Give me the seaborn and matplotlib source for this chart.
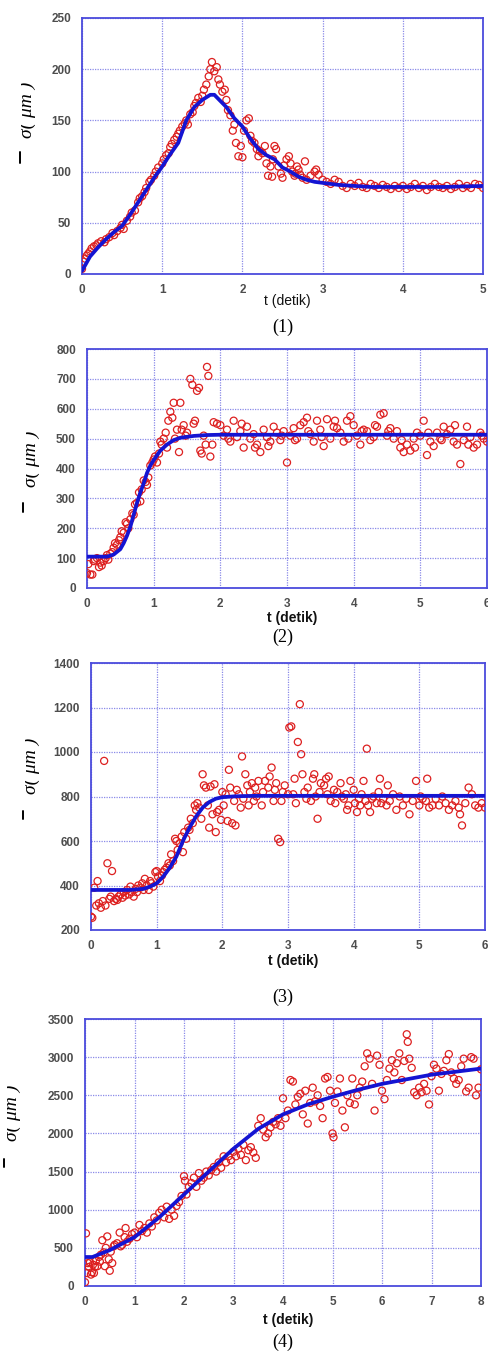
import numpy as np
import pandas as pd
import seaborn as sns
import matplotlib
matplotlib.use("Agg")
import matplotlib.pyplot as plt
from matplotlib.transforms import Bbox, TransformedBbox
from matplotlib.lines import Line2D

# ---------------- DATA ----------------
# Panel 1
p1_points = [(0.00,5),(0.02,12),(0.04,15),(0.06,18),(0.08,20),(0.10,22),(0.12,25),(0.15,27),(0.18,28),(0.20,30),
    (0.24,32),(0.28,31),(0.30,34),(0.34,36),(0.38,40),(0.40,38),(0.44,42),(0.48,45),(0.50,48),(0.52,44),
    (0.56,52),(0.60,56),(0.62,60),(0.66,62),(0.70,70),(0.72,74),(0.75,76),(0.78,80),(0.80,84),(0.84,90),
    (0.86,92),(0.90,96),(0.92,100),(0.95,104),(1.00,108),(1.02,112),(1.05,116),(1.08,118),(1.10,124),(1.12,127),
    (1.15,131),(1.18,134),(1.20,137),(1.22,140),(1.25,144),(1.28,147),(1.30,150),(1.32,146),(1.35,156),(1.38,158),
    (1.40,164),(1.42,167),(1.45,172),(1.48,168),(1.50,174),(1.52,180),(1.55,185),(1.58,193),(1.60,200),(1.62,207),
    (1.65,198),(1.68,202),(1.70,190),(1.72,185),(1.75,178),(1.78,180),(1.80,170),(1.82,160),(1.85,155),(1.88,140),
    (1.90,146),(1.92,128),(1.95,115),(1.98,125),(2.00,114),(2.02,140),(2.05,150),(2.08,152),(2.10,135),(2.12,130),
    (2.15,128),(2.18,122),(2.20,115),(2.22,120),(2.25,118),(2.28,125),(2.30,108),(2.32,96),(2.35,105),(2.37,95),
    (2.38,112),(2.40,125),(2.42,122),(2.45,105),(2.48,98),(2.50,94),(2.52,106),(2.55,112),(2.58,115),(2.60,108),
    (2.62,100),(2.65,96),(2.66,98),(2.68,105),(2.70,102),(2.72,97),(2.75,94),(2.78,110),(2.80,92),(2.85,96),
    (2.90,100),(2.92,102),(2.95,97),(3.00,92),(3.05,90),(3.10,88),(3.15,92),(3.20,90),(3.25,86),(3.30,84),
    (3.35,88),(3.40,86),(3.45,89),(3.50,85),(3.55,84),(3.60,88),(3.65,86),(3.70,84),(3.75,87),(3.80,85),
    (3.85,83),(3.90,86),(3.95,84),(4.00,86),(4.05,83),(4.10,85),(4.15,88),(4.20,84),(4.25,86),(4.30,82),
    (4.35,85),(4.40,88),(4.45,85),(4.50,84),(4.55,86),(4.60,83),(4.65,85),(4.70,88),(4.75,84),(4.80,86),
    (4.85,84),(4.90,88),(4.95,87),(5.00,84)]
p1_line_t = [0, 0.1, 0.2, 0.3, 0.4, 0.5, 0.6, 0.7, 0.8, 0.9, 1.0, 1.1, 1.2, 1.3, 1.4, 1.5, 1.6, 1.65, 1.7, 1.8,
             1.9, 2.0, 2.1, 2.2, 2.3, 2.4, 2.5, 2.6, 2.7, 2.8, 2.9, 3.0, 3.2, 3.4, 3.6, 3.8, 4.0, 4.5, 5.0]
p1_line_y = [3, 17, 26, 34, 41, 47, 58, 70, 82, 94, 105, 117, 128, 150, 163, 170, 175, 175, 171, 163,
             152, 144, 132, 122, 116, 112, 104, 100, 95, 92, 90, 89, 87, 86, 85, 85, 85, 85, 86]

# Panel 2
p2_points = [(0.00,50),(0.02,80),(0.05,45),(0.08,45),(0.10,90),(0.12,95),(0.15,100),(0.18,70),(0.20,85),(0.22,75),
    (0.25,90),(0.28,100),(0.30,110),(0.32,95),(0.35,115),(0.38,120),(0.40,135),(0.42,150),(0.45,145),(0.48,160),
    (0.50,170),(0.52,190),(0.55,185),(0.58,220),(0.60,215),(0.62,200),(0.65,230),(0.68,250),(0.70,245),(0.72,280),
    (0.75,285),(0.78,320),(0.80,290),(0.82,330),(0.85,360),(0.88,355),(0.90,345),(0.92,370),(0.95,410),(0.98,420),
    (1.00,430),(1.02,440),(1.05,420),(1.08,450),(1.10,490),(1.12,480),(1.15,500),(1.18,520),(1.20,470),(1.22,560),
    (1.25,590),(1.28,570),(1.30,620),(1.32,500),(1.35,530),(1.38,455),(1.40,620),(1.42,530),(1.45,545),(1.48,510),
    (1.50,520),(1.55,700),(1.58,680),(1.60,550),(1.62,560),(1.65,660),(1.68,670),(1.70,460),(1.72,450),(1.75,510),
    (1.78,480),(1.80,740),(1.82,710),(1.85,440),(1.88,480),(1.90,555),(1.95,550),
    (2.00,545),(2.05,510),(2.10,530),(2.12,500),(2.15,490),(2.20,560),(2.25,505),(2.30,525),(2.32,550),(2.35,470),
    (2.40,540),(2.45,500),(2.50,515),(2.52,470),(2.55,480),(2.60,455),(2.65,530),(2.70,505),(2.72,475),(2.75,490),
    (2.80,540),(2.85,520),(2.90,495),(2.92,510),(2.95,525),(3.00,420),(3.05,510),(3.10,535),(3.12,495),(3.15,500),
    (3.20,545),(3.25,555),(3.30,570),(3.32,525),(3.35,515),(3.40,490),(3.45,560),(3.50,530),(3.52,505),(3.55,475),
    (3.60,565),(3.65,500),(3.70,540),(3.72,560),(3.75,535),(3.80,520),(3.85,490),(3.90,560),(3.92,500),(3.95,575),
    (4.00,545),(4.05,510),(4.10,480),(4.12,525),(4.15,530),(4.20,525),(4.25,495),(4.30,505),(4.32,545),(4.35,540),
    (4.40,580),(4.45,585),(4.50,510),(4.52,525),(4.55,535),(4.60,500),(4.65,525),(4.70,470),(4.72,495),(4.75,455),
    (4.80,480),(4.85,460),(4.90,500),(4.92,470),(4.95,520),(5.00,510),(5.05,560),(5.10,445),(5.12,520),(5.15,490),
    (5.20,475),(5.25,520),(5.30,500),(5.32,495),(5.35,540),(5.40,515),(5.45,530),(5.50,490),(5.52,545),(5.55,480),
    (5.60,415),(5.65,495),(5.70,540),(5.72,480),(5.75,505),(5.80,470),(5.85,480),(5.90,520),(5.92,510),(5.95,500),
    (6.00,490)]
p2_line_t = [0, 0.3, 0.4, 0.5, 0.55, 0.6, 0.65, 0.7, 0.75, 0.8, 0.85, 0.9, 0.95, 1.0, 1.1, 1.2, 1.3, 1.4, 1.6, 1.8,
             2.0, 3.0, 4.0, 5.0, 6.0]
p2_line_y = [105, 105, 112, 130, 150, 175, 205, 245, 285, 320, 350, 385, 410, 428, 460, 480, 495, 503, 509, 512,
             513, 513, 513, 513, 513]

# Panel 3
p3_points = [(0.00,260),(0.02,255),(0.05,390),(0.08,310),(0.10,420),(0.12,320),(0.15,300),(0.18,330),(0.20,960),(0.22,310),
    (0.25,500),(0.28,340),(0.30,350),(0.32,465),(0.35,330),(0.38,340),(0.40,335),(0.42,350),(0.45,360),(0.48,345),
    (0.50,370),(0.52,355),(0.55,380),(0.58,360),(0.60,395),(0.62,370),(0.65,350),(0.68,385),(0.70,370),(0.72,400),
    (0.75,390),(0.78,410),(0.80,380),(0.82,430),(0.85,400),(0.88,380),(0.90,420),(0.92,410),(0.95,395),(0.98,460),
    (1.00,465),(1.02,440),(1.05,420),(1.08,445),(1.10,460),(1.12,470),(1.15,480),(1.18,500),(1.20,490),(1.22,540),
    (1.25,510),(1.28,610),(1.30,600),(1.32,560),(1.35,590),(1.38,620),(1.40,550),(1.42,640),(1.45,610),(1.48,660),
    (1.50,650),(1.52,700),(1.55,680),(1.58,760),(1.60,740),(1.62,770),(1.65,750),(1.68,700),(1.70,900),(1.72,850),
    (1.75,840),(1.78,760),(1.80,660),(1.82,845),(1.85,720),(1.88,855),(1.90,640),(1.92,730),(1.95,740),(1.98,695),
    (2.00,820),(2.02,760),(2.05,810),(2.08,690),(2.10,920),(2.12,840),(2.15,680),(2.18,780),(2.20,670),(2.22,830),
    (2.25,810),(2.28,750),(2.30,980),(2.32,790),(2.35,900),(2.38,850),(2.40,760),(2.42,820),(2.45,860),(2.48,780),
    (2.50,840),(2.52,800),(2.55,870),(2.60,760),(2.62,820),(2.65,870),(2.70,840),(2.72,890),(2.75,930),(2.78,780),
    (2.80,830),(2.82,860),(2.85,610),(2.88,595),(2.90,780),(2.92,820),(2.95,850),(3.00,810),(3.02,1110),(3.05,1115),
    (3.08,810),(3.10,880),(3.12,770),(3.15,1045),(3.18,1215),(3.20,990),(3.22,900),(3.25,820),(3.28,790),(3.30,840),
    (3.35,780),(3.38,880),(3.40,900),(3.42,800),(3.45,700),(3.48,820),(3.50,860),(3.55,850),(3.58,880),(3.60,810),
    (3.62,890),(3.65,780),(3.70,830),(3.72,770),(3.75,820),(3.80,860),(3.82,800),(3.85,790),(3.88,810),(3.90,740),
    (3.92,760),(3.95,870),(4.00,830),(4.02,770),(4.05,730),(4.08,790),(4.10,760),(4.12,810),(4.15,870),(4.18,780),
    (4.20,1015),(4.22,760),(4.25,730),(4.28,790),(4.30,800),(4.35,770),(4.38,820),(4.40,880),(4.42,770),(4.45,790),
    (4.50,760),(4.52,850),(4.55,780),(4.60,810),(4.65,740),(4.70,800),(4.75,760),(4.80,790),(4.85,720),(4.90,780),
    (4.95,870),(5.00,760),(5.02,800),(5.05,790),(5.10,780),(5.12,880),(5.15,750),(5.20,760),(5.25,790),(5.30,760),
    (5.35,800),(5.40,770),(5.45,740),(5.50,760),(5.55,780),(5.60,750),(5.62,720),(5.65,670),(5.70,770),(5.75,840),
    (5.80,810),(5.85,760),(5.90,750),(5.95,770),(6.00,750)]
p3_line_t = [0, 0.6, 0.8, 0.9, 1.0, 1.1, 1.2, 1.3, 1.4, 1.5, 1.6, 1.7, 1.8, 1.9, 2.0, 2.2, 2.5, 3.0, 6.0]
p3_line_y = [380, 380, 385, 395, 410, 440, 480, 530, 600, 660, 710, 750, 775, 790, 797, 801, 803, 803, 803]

# Panel 4
p4_points = [(0.00,50),(0.02,690),(0.04,170),(0.06,300),(0.08,250),(0.10,310),(0.12,150),(0.14,180),(0.16,280),(0.18,170),
    (0.20,250),(0.22,330),(0.25,260),(0.28,380),(0.30,320),(0.32,410),(0.35,600),(0.38,440),(0.40,260),(0.42,500),
    (0.45,650),(0.48,350),(0.50,200),(0.52,450),(0.55,300),(0.58,520),(0.60,540),(0.65,560),(0.70,700),(0.72,520),
    (0.75,540),(0.80,640),(0.82,760),(0.85,580),(0.90,620),(0.95,680),(1.00,700),(1.05,640),(1.10,800),(1.15,720),
    (1.20,760),(1.25,700),(1.30,820),(1.35,780),(1.40,900),(1.45,860),(1.50,960),(1.55,1000),(1.60,900),(1.65,1040),
    (1.70,880),(1.75,1000),(1.80,920),(1.85,1050),(1.90,1100),(1.95,1180),(2.00,1440),(2.02,1380),(2.05,1200),(2.10,1300),
    (2.15,1350),(2.20,1420),(2.25,1300),(2.30,1480),(2.35,1380),(2.40,1420),(2.45,1500),(2.50,1450),(2.55,1520),(2.60,1560),
    (2.65,1500),(2.70,1620),(2.75,1550),(2.80,1700),(2.85,1620),(2.90,1700),(2.95,1650),(3.00,1760),(3.05,1700),(3.10,1800),
    (3.15,1720),(3.20,1850),(3.25,1650),(3.30,1780),(3.35,1820),(3.40,1750),(3.45,1680),(3.50,2100),(3.55,2200),(3.60,2050),
    (3.65,1950),(3.70,2000),(3.75,2080),(3.80,2150),(3.85,2120),(3.90,2200),(3.95,2100),(4.00,2460),(4.05,2200),(4.10,2300),
    (4.15,2700),(4.20,2680),(4.25,2380),(4.30,2480),(4.35,2520),(4.40,2250),(4.45,2560),(4.50,2130),(4.55,2400),(4.60,2600),
    (4.65,2420),(4.70,2500),(4.75,2360),(4.80,2200),(4.85,2720),(4.90,2740),(4.95,2560),(5.00,2000),(5.02,1950),(5.05,2400),
    (5.10,2550),(5.15,2720),(5.20,2300),(5.25,2080),(5.30,2500),(5.35,2400),(5.40,2720),(5.45,2380),(5.50,2500),(5.55,2600),
    (5.60,2680),(5.65,2880),(5.70,3050),(5.75,2980),(5.80,2650),(5.85,2300),(5.90,3020),(5.95,2900),(6.00,2560),(6.05,2450),
    (6.10,2700),(6.15,2850),(6.20,2960),(6.25,2800),(6.30,2920),(6.35,3050),(6.40,2700),(6.45,2950),(6.50,3300),(6.52,3200),
    (6.55,2980),(6.60,2860),(6.65,2540),(6.70,2500),(6.75,2600),(6.80,2540),(6.85,2650),(6.90,2560),(6.95,2380),(7.00,2750),
    (7.05,2900),(7.10,2850),(7.15,2560),(7.20,2780),(7.25,2820),(7.30,2960),(7.35,3040),(7.40,2800),(7.45,2720),(7.50,2650),
    (7.55,2700),(7.60,2880),(7.65,2980),(7.70,2550),(7.75,2600),(7.80,3000),(7.85,2980),(7.90,2500),(7.95,2600),(8.00,2840)]
p4_line_t = [0, 0.15, 0.5, 1.0, 1.5, 2.0, 2.5, 3.0, 3.5, 4.0, 4.5, 5.0, 5.5, 6.0, 6.5, 7.0, 7.5, 8.0]
p4_line_y = [380, 380, 470, 640, 900, 1200, 1500, 1800, 2060, 2250, 2380, 2480, 2570, 2650, 2710, 2770, 2810, 2850]

xticks = [[0, 1, 2, 3, 4, 5], [0, 1, 2, 3, 4, 5, 6], [0, 1, 2, 3, 4, 5, 6], [0, 1, 2, 3, 4, 5, 6, 7, 8]]
yticks = [[0, 50, 100, 150, 200, 250],
          [0, 100, 200, 300, 400, 500, 600, 700, 800],
          [200, 400, 600, 800, 1000, 1200, 1400],
          [0, 500, 1000, 1500, 2000, 2500, 3000, 3500]]
panel_names = ["(1)", "(2)", "(3)", "(4)"]
x_label = "t (detik)"
y_label = "σ( μm )"

# ---------------- STYLE / LAYOUT ----------------
W, H = 488, 1351
RED = "#dd2020"
BLUE = "#1414d2"
SPINE = "#4b4bdc"
GRID = "#8a8ae8"
TICKC = "#4d4d4d"

sns.set_theme(style="white")
plt.rcParams["font.family"] = ["Liberation Sans", "DejaVu Sans"]

fig = plt.figure(figsize=(W / 100, H / 100), dpi=100)

# (left, right, top, bottom) in pixels, xlabel y, caption y, ylabel (right x, center y, clip x0), bar (x, y0, y1), xlabel bold
layout = [
    dict(box=(82, 483, 18, 274), xl=301, cap=327, yl=(36, 110, 21), bar=(20, 152, 163), bold=False),
    dict(box=(87, 487, 349, 588), xl=618, cap=637, yl=(40, 459, 26), bar=(23, 503, 512), bold=True),
    dict(box=(91, 485, 663, 930), xl=961, cap=997, yl=(40, 766, 25), bar=(23, 811, 819), bold=True),
    dict(box=(85, 481, 1019, 1286), xl=1320, cap=1342, yl=(21, 1113, 7), bar=(4, 1159, 1167), bold=True),
]

points = [p1_points, p2_points, p3_points, p4_points]
lines = [(p1_line_t, p1_line_y), (p2_line_t, p2_line_y), (p3_line_t, p3_line_y), (p4_line_t, p4_line_y)]

for i in range(4):
    L = layout[i]
    l, r, t, b = L["box"]
    ax = fig.add_axes([l / W, 1 - b / H, (r - l) / W, (b - t) / H])
    pts = np.array(points[i], dtype=float)
    df = pd.DataFrame({"t": pts[:, 0], "y": pts[:, 1]})
    sns.scatterplot(data=df, x="t", y="y", ax=ax, marker="o", s=26, color=RED,
                    facecolor="none", edgecolor=RED, linewidth=0.9, zorder=3)
    lt, ly = lines[i]
    sns.lineplot(x=lt, y=ly, ax=ax, color=BLUE, linewidth=2.7, estimator=None, sort=False, zorder=4)

    ax.set_xlim(xticks[i][0], xticks[i][-1])
    ax.set_ylim(yticks[i][0], yticks[i][-1])
    ax.set_xticks(xticks[i])
    ax.set_yticks(yticks[i])
    ax.set_xticklabels([str(v) for v in xticks[i]])
    ax.set_yticklabels([str(v) for v in yticks[i]])
    ax.set_xlabel("")
    ax.set_ylabel("")
    ax.grid(True, color=GRID, linestyle=(0, (1, 1)), linewidth=0.9)
    ax.set_axisbelow(True)
    for sp in ax.spines.values():
        sp.set_color(SPINE)
        sp.set_linewidth(1.3)
        sp.set_visible(True)
    ax.tick_params(axis="both", length=0, labelsize=8.5, labelcolor=TICKC)
    ax.tick_params(axis="x", pad=7)
    ax.tick_params(axis="y", pad=8)
    for lab in ax.get_xticklabels() + ax.get_yticklabels():
        lab.set_fontweight("bold")
    ax.set_facecolor("white")

    # x label and caption
    fig.text(((l + r) / 2 + 5) / W, 1 - L["xl"] / H, x_label, ha="center", va="center",
             fontsize=10, color="#111111", fontweight="bold" if L["bold"] else "normal")
    fig.text(283 / W, 1 - L["cap"] / H, panel_names[i], ha="center", va="center",
             fontsize=13, family="Liberation Serif", color="black")

    # clipped y label
    xr, yc, cx0 = L["yl"]
    txt = fig.text(xr / W, 1 - yc / H, y_label, rotation=90, ha="right", va="center",
                   fontsize=14, family="Liberation Serif", style="italic", color="black")
    clip = TransformedBbox(Bbox([[cx0 / W, 0.0], [1.0, 1.0]]), fig.transFigure)
    txt.set_clip_box(clip)
    txt.set_clip_on(True)
    bx, by0, by1 = L["bar"]
    fig.add_artist(Line2D([bx / W, bx / W], [1 - by0 / H, 1 - by1 / H], color="black", linewidth=1.4))

fig.savefig("out.png", dpi=100, facecolor="white")
